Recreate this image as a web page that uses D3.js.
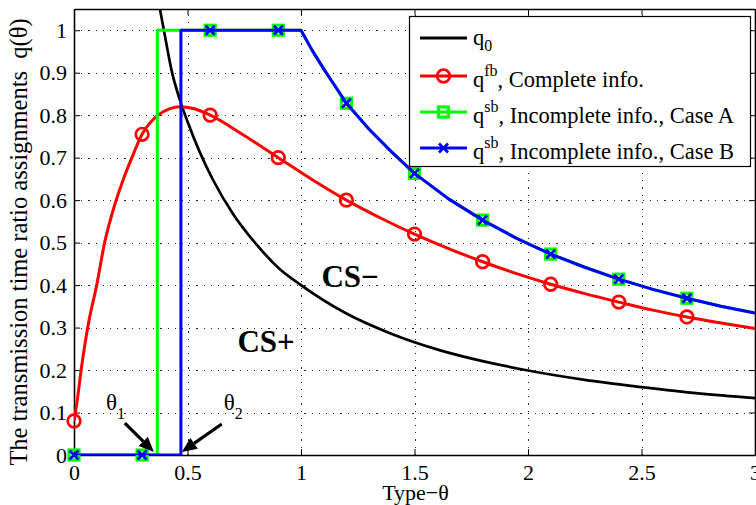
<!DOCTYPE html>
<html>
<head>
<meta charset="utf-8">
<script src="https://cdn.jsdelivr.net/npm/d3@7/dist/d3.min.js"></script>
<style>
  html, body { margin: 0; padding: 0; background: #fff; }
  svg { display: block; }
  text { font-family: "Liberation Serif", "Times New Roman", serif; }
</style>
</head>
<body>
<svg id="chart" width="756" height="505"></svg>
<script>
// ---- data ----
const xTicks = [0, 0.5, 1, 1.5, 2, 2.5, 3];
const xTickLabels = ["0", "0.5", "1", "1.5", "2", "2.5", "3"];
const yTicks = [0, 0.1, 0.2, 0.3, 0.4, 0.5, 0.6, 0.7, 0.8, 0.9, 1];
const yTickLabels = ["0", "0.1", "0.2", "0.3", "0.4", "0.5", "0.6", "0.7", "0.8", "0.9", "1"];

// q0 threshold curve
const q0Theta = [0.375, 0.396, 0.43, 0.467, 0.5, 0.554, 0.612, 0.7, 0.8, 0.906, 1.0, 1.2, 1.4, 1.61, 1.8, 2.0, 2.25, 2.5, 2.75, 3.0];
const q0Val   = [1.06, 1.0, 0.905, 0.835, 0.785, 0.713, 0.648, 0.568, 0.498, 0.438, 0.4, 0.333, 0.285, 0.247, 0.221, 0.199, 0.177, 0.16, 0.145, 0.134];

// first-best assignment (complete information)
const fbTheta = [0, 0.012, 0.034, 0.062, 0.1, 0.135, 0.18, 0.216, 0.255, 0.3, 0.37, 0.42, 0.466, 0.53, 0.6, 0.75, 0.9, 1.05, 1.2, 1.35, 1.5, 1.65, 1.8, 1.95, 2.1, 2.25, 2.4, 2.55, 2.7, 2.85, 3.0];
const fbVal   = [0.08, 0.12, 0.21, 0.305, 0.4, 0.5, 0.59, 0.647, 0.7, 0.755, 0.8, 0.815, 0.82, 0.815, 0.8, 0.752, 0.7, 0.648, 0.6, 0.558, 0.52, 0.486, 0.455, 0.427, 0.402, 0.38, 0.36, 0.341, 0.325, 0.311, 0.298];

// second-best assignment, case A
const sbATheta = [0, 0.367, 0.367, 1.0, 1.05, 1.1, 1.2, 1.3, 1.4, 1.5, 1.65, 1.8, 1.95, 2.1, 2.25, 2.4, 2.55, 2.7, 2.85, 3.0];
const sbAVal   = [0, 0, 1, 1, 0.952, 0.909, 0.828, 0.767, 0.713, 0.663, 0.603, 0.553, 0.51, 0.473, 0.442, 0.414, 0.39, 0.369, 0.35, 0.334];

// second-best assignment, case B
const sbBTheta = [0, 0.471, 0.471, 1.0, 1.05, 1.1, 1.2, 1.3, 1.4, 1.5, 1.65, 1.8, 1.95, 2.1, 2.25, 2.4, 2.55, 2.7, 2.85, 3.0];
const sbBVal   = [0, 0, 1, 1, 0.952, 0.909, 0.828, 0.767, 0.713, 0.663, 0.603, 0.553, 0.51, 0.473, 0.442, 0.414, 0.39, 0.369, 0.35, 0.334];

// marker samples
const markTheta = [0, 0.3, 0.6, 0.9, 1.2, 1.5, 1.8, 2.1, 2.4, 2.7];
const fbMarkVal = [0.08, 0.755, 0.8, 0.7, 0.6, 0.52, 0.455, 0.402, 0.36, 0.325];
const sbMarkVal = [0, 0, 1, 1, 0.828, 0.663, 0.553, 0.473, 0.414, 0.369];

// ---- layout ----
const svg = d3.select("#chart");
const L = 74, R = 755, T = 9, B = 455;
const x = d3.scaleLinear().domain([0, 3]).range([L, R]);
const y = d3.scaleLinear().domain([0, 1.05]).range([B, T]);

const FONT = 22;
const SERIF = '"Liberation Serif", "Times New Roman", serif';

svg.append("defs").append("clipPath").attr("id", "plotClip")
  .append("rect").attr("x", L).attr("y", T).attr("width", R - L).attr("height", B - T);

// grid
const grid = svg.append("g").attr("stroke", "#222").attr("stroke-width", 1)
  .attr("stroke-dasharray", "1.2,6").attr("shape-rendering", "crispEdges");
grid.selectAll("line.gx").data(xTicks.slice(1, -1)).join("line")
  .attr("x1", d => Math.round(x(d)) + 0.5).attr("x2", d => Math.round(x(d)) + 0.5)
  .attr("y1", B).attr("y2", T);
grid.selectAll("line.gy").data(yTicks.slice(1)).join("line")
  .attr("y1", d => Math.round(y(d)) + 0.5).attr("y2", d => Math.round(y(d)) + 0.5)
  .attr("x1", L).attr("x2", R);

// axes (inward ticks on all four sides)
function styleAxis(g) {
  g.attr("font-family", SERIF);
  g.selectAll("path").attr("stroke", "#000").attr("stroke-width", 1.6);
  g.selectAll("line").attr("stroke", "#000").attr("stroke-width", 1);
  g.selectAll("text").attr("font-size", FONT).attr("fill", "#000").style("font-family", SERIF);
}
svg.append("g").attr("transform", `translate(0,${B})`)
  .call(d3.axisBottom(x).tickValues(xTicks).tickFormat((d, i) => xTickLabels[i])
    .tickSizeInner(-6).tickSizeOuter(0).tickPadding(9))
  .call(styleAxis);
svg.append("g").attr("transform", `translate(0,${T})`)
  .call(d3.axisTop(x).tickValues(xTicks).tickFormat("").tickSizeInner(-6).tickSizeOuter(0))
  .call(styleAxis);
svg.append("g").attr("transform", `translate(${L},0)`)
  .call(d3.axisLeft(y).tickValues(yTicks).tickFormat((d, i) => yTickLabels[i])
    .tickSizeInner(-6).tickSizeOuter(0).tickPadding(7))
  .call(styleAxis);
svg.append("g").attr("transform", `translate(${R},0)`)
  .call(d3.axisRight(y).tickValues(yTicks).tickFormat("").tickSizeInner(-6).tickSizeOuter(0))
  .call(styleAxis);

// curves
const lineLin = d3.line().x(d => x(d[0])).y(d => y(d[1]));
const lineSmooth = d3.line().x(d => x(d[0])).y(d => y(d[1])).curve(d3.curveMonotoneX);
const plot = svg.append("g").attr("clip-path", "url(#plotClip)");
function curve(g, th, v, color, w, gen) {
  g.append("path").datum(th.map((t, i) => [t, v[i]]))
    .attr("d", gen).attr("fill", "none").attr("stroke", color)
    .attr("stroke-width", w).attr("stroke-linejoin", "round");
}
const RED = "#ff0000", GREEN = "#00ff00", BLUE = "#0000ff";

function circles(g, pts) {
  g.selectAll(null).data(pts).join("circle")
    .attr("cx", d => d[0]).attr("cy", d => d[1]).attr("r", 6.3)
    .attr("fill", "none").attr("stroke", RED).attr("stroke-width", 2.7);
}
function squares(g, pts) {
  g.selectAll(null).data(pts).join("rect")
    .attr("x", d => d[0] - 5).attr("y", d => d[1] - 5).attr("width", 10).attr("height", 10)
    .attr("fill", "none").attr("stroke", GREEN).attr("stroke-width", 3.2);
}
function crosses(g, pts) {
  g.selectAll(null).data(pts).join("path")
    .attr("d", d => `M${d[0]-4.5},${d[1]-4.5}L${d[0]+4.5},${d[1]+4.5}M${d[0]-4.5},${d[1]+4.5}L${d[0]+4.5},${d[1]-4.5}`)
    .attr("fill", "none").attr("stroke", BLUE).attr("stroke-width", 2.7);
}

curve(plot, q0Theta, q0Val, "#000", 2.7, lineSmooth);
curve(plot, fbTheta, fbVal, RED, 3, lineSmooth);
circles(svg.append("g"), markTheta.map((t, i) => [x(t), y(fbMarkVal[i])]));

curve(plot.append("g"), sbATheta, sbAVal, GREEN, 3, lineLin);
squares(svg.append("g"), markTheta.map((t, i) => [x(t), y(sbMarkVal[i])]));
curve(svg.append("g").attr("clip-path", "url(#plotClip)"), sbBTheta, sbBVal, BLUE, 3, lineLin);
crosses(svg.append("g"), markTheta.map((t, i) => [x(t), y(sbMarkVal[i])]));

// region labels
svg.append("text").attr("x", x(1.09)).attr("y", y(0.395))
  .attr("font-size", 31).attr("font-weight", "bold").text("CS\u2212");
svg.append("text").attr("x", x(0.72)).attr("y", y(0.242))
  .attr("font-size", 31).attr("font-weight", "bold").text("CS+");

// threshold annotations
const arrows = [
  { from: [0.224, 0.075], to: [0.352, 0.007] },
  { from: [0.651, 0.073], to: [0.475, 0.007] }
];
arrows.forEach(a => {
  const x1 = x(a.from[0]), y1 = y(a.from[1]), x2 = x(a.to[0]), y2 = y(a.to[1]);
  const ang = Math.atan2(y2 - y1, x2 - x1);
  const hl = 15, hw = 6.5;
  const bx = x2 - hl * Math.cos(ang), by = y2 - hl * Math.sin(ang);
  svg.append("line").attr("x1", x1).attr("y1", y1).attr("x2", bx).attr("y2", by)
    .attr("stroke", "#000").attr("stroke-width", 3.2);
  svg.append("path")
    .attr("d", `M${x2},${y2}L${bx + hw * Math.sin(ang)},${by - hw * Math.cos(ang)}L${bx - hw * Math.sin(ang)},${by + hw * Math.cos(ang)}Z`)
    .attr("fill", "#000");
});
const thetaLabels = [
  { pos: [0.141, 0.106], sub: "1" },
  { pos: [0.66, 0.106], sub: "2" }
];
thetaLabels.forEach(l => {
  const t = svg.append("text").attr("x", x(l.pos[0])).attr("y", y(l.pos[1])).attr("font-size", 23);
  t.append("tspan").text("\u03b8");
  t.append("tspan").attr("dy", 9).attr("font-size", 16).text(l.sub);
});

// axis titles
svg.append("text").attr("x", (L + R) / 2 + 1).attr("y", 500).attr("text-anchor", "middle")
  .attr("font-size", FONT).text("Type\u2212\u03b8");
svg.append("text").attr("transform", `translate(27,242) rotate(-90)`).attr("text-anchor", "middle")
  .attr("font-size", 24.5).attr("xml:space", "preserve")
  .text("The transmission time ratio assignments  q(\u03b8)");

// legend
const lg = svg.append("g");
lg.append("rect").attr("x", 409.5).attr("y", 16.5).attr("width", 341).attr("height", 150)
  .attr("fill", "#fff").attr("stroke", "#000").attr("stroke-width", 1.2);
const legendItems = [
  { color: "#000", mark: null, sup: null, sub: "0", text: "" },
  { color: RED, mark: "circle", sup: "fb", sub: null, text: ", Complete info." },
  { color: GREEN, mark: "square", sup: "sb", sub: null, text: ", Incomplete info., Case A" },
  { color: BLUE, mark: "cross", sup: "sb", sub: null, text: ", Incomplete info., Case B" }
];
const rowY = [38, 76, 112, 148];
legendItems.forEach((it, i) => {
  const ly = rowY[i];
  lg.append("line").attr("x1", 420).attr("x2", 467).attr("y1", ly).attr("y2", ly)
    .attr("stroke", it.color).attr("stroke-width", 3);
  const g = lg.append("g");
  if (it.mark === "circle") circles(g, [[443.5, ly]]);
  if (it.mark === "square") squares(g, [[443.5, ly]]);
  if (it.mark === "cross") crosses(g, [[443.5, ly]]);
  const t = lg.append("text").attr("x", 473).attr("y", ly + (it.sub ? 7 : 11)).attr("font-size", 22.5);
  t.append("tspan").text("q");
  if (it.sub) t.append("tspan").attr("dy", 6).attr("font-size", 16).text(it.sub);
  if (it.sup) {
    t.append("tspan").attr("dy", -11).attr("font-size", 16).text(it.sup);
    t.append("tspan").attr("dy", 11).text(it.text);
  }
});
</script>
</body>
</html>
